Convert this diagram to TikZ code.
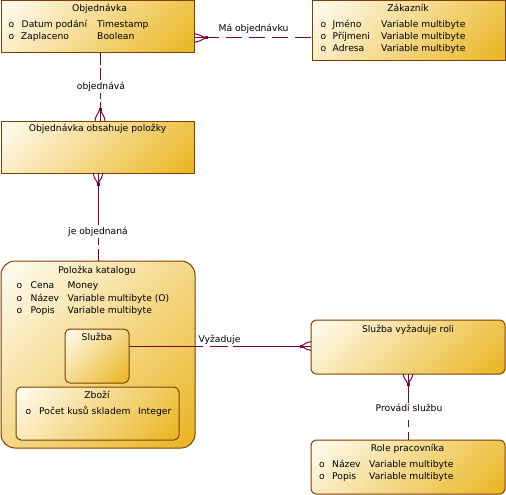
\documentclass[tikz,border=0pt]{standalone}
\usepackage{fontspec}
\setmainfont{DejaVu Sans}
\usetikzlibrary{shapes.misc,calc,shadings}
\definecolor{bordc}{RGB}{128,64,0}
\definecolor{relc}{RGB}{128,0,64}
\definecolor{cl}{RGB}{255,253,244}
\definecolor{cg}{RGB}{233,180,30}
\newcommand\dfs{\fontsize{9.2}{11}\selectfont}
\tikzset{
  ent/.style={draw=bordc, line width=1pt, inner sep=0pt, outer sep=0pt, anchor=north west},
  sh/.style 2 args={upper left=cl, lower right=cg, upper right=cg!#1!cl, lower left=cg!#2!cl},
  cham/.style={ent, chamfered rectangle, chamfered rectangle xsep=3pt, chamfered rectangle ysep=3pt},
  rnd/.style={ent, rectangle, rounded corners=5pt},
  txt/.style={inner sep=0pt, font=\dfs, anchor=base west},
  ttl/.style={inner sep=0pt, font=\dfs, anchor=base},
  rel/.style={draw=relc, line width=1pt},
  lab/.style={fill=white, inner sep=1pt, font=\dfs, anchor=base},
  labn/.style={inner sep=0pt, font=\dfs, anchor=base},
  dotm/.style={fill=relc, inner sep=0pt, minimum size=3pt, rectangle}
}
\begin{document}
\begin{tikzpicture}[x=1pt,y=-1pt]
\fill[white] (0,0) rectangle (506,495);
\useasboundingbox (0,0) rectangle (506,495);

% boxes
\node[cham, sh={79}{21}, minimum width=193pt, minimum height=52pt] (obj) at (1,1) {};
\node[cham, sh={76}{24}, minimum width=193pt, minimum height=60pt] (zak) at (312,1) {};
\node[cham, sh={79}{21}, minimum width=193pt, minimum height=52pt] (oop) at (1,121) {};
\node[rnd, sh={51}{49}, rounded corners=14pt, minimum width=194pt, minimum height=187pt] (pk) at (1,261) {};
\node[rnd, sh={54}{46}, minimum width=64pt, minimum height=54pt] (sl) at (65,329) {};
\node[rnd, sh={75}{25}, minimum width=163pt, minimum height=53pt] (zb) at (16,387) {};
\node[rnd, sh={78}{22}, minimum width=194pt, minimum height=54pt] (svr) at (311,320) {};
\node[rnd, sh={78}{22}, minimum width=194pt, minimum height=54pt] (role) at (311,440) {};

% Objednavka
\node[ttl] (objT) at (99.5,12) {Objednávka};
\node[txt] (objo1) at (8.5,27.5) {o};
\node[txt] (objn1) at (21.5,27.5) {Datum podání};
\node[txt] (objt1) at (97,27.5) {Timestamp};
\node[txt] (objo2) at (8.5,39.5) {o};
\node[txt] (objn2) at (20.7,39.5) {Zaplaceno};
\node[txt] (objt2) at (97,39.5) {Boolean};

% Zakaznik
\node[ttl] (zakT) at (408,12) {Zákazník};
\node[txt] (zako1) at (320.5,27.5) {o};
\node[txt] (zakn1) at (332.5,27.5) {Jméno};
\node[txt] (zakt1) at (381,27.5) {Variable multibyte};
\node[txt] (zako2) at (320.5,39.5) {o};
\node[txt] (zakn2) at (332.5,39.5) {Příjmeni};
\node[txt] (zakt2) at (381,39.5) {Variable multibyte};
\node[txt] (zako3) at (320.5,51.5) {o};
\node[txt] (zakn3) at (332.5,51.5) {Adresa};
\node[txt] (zakt3) at (381,51.5) {Variable multibyte};

% Objednavka obsahuje polozky
\node[ttl] (oopT) at (97.5,131.5) {Objednávka obsahuje položky};

% Polozka katalogu
\node[ttl] (pkT) at (97,273.5) {Položka katalogu};
\node[txt] (pko1) at (16.5,288.5) {o};
\node[txt] (pkn1) at (30.5,288.5) {Cena};
\node[txt] (pkt1) at (67.5,288.5) {Money};
\node[txt] (pko2) at (16.5,301) {o};
\node[txt] (pkn2) at (30.5,301) {Název};
\node[txt] (pkt2) at (67.5,301) {Variable multibyte (O)};
\node[txt] (pko3) at (16.5,313.5) {o};
\node[txt] (pkn3) at (30.5,313.5) {Popis};
\node[txt] (pkt3) at (67.5,313.5) {Variable multibyte};

\node[ttl] (slT) at (97,340.5) {Služba};
\node[ttl] (zbT) at (97,398.5) {Zboží};
\node[txt] (zbo1) at (25.5,414) {o};
\node[txt] (zbn1) at (39,414) {Počet kusů skladem};
\node[txt] (zbt1) at (138,414) {Integer};

% Sluzba vyzaduje roli
\node[ttl] (svrT) at (408,332) {Služba vyžaduje roli};

% Role pracovnika
\node[ttl] (roleT) at (407.5,451.5) {Role pracovníka};
\node[txt] (roleo1) at (319,467) {o};
\node[txt] (rolen1) at (332,467) {Název};
\node[txt] (rolet1) at (369,467) {Variable multibyte};
\node[txt] (roleo2) at (319,479.5) {o};
\node[txt] (rolen2) at (332,479.5) {Popis};
\node[txt] (rolet2) at (369,479.5) {Variable multibyte};

% ---- connector 1: Objednavka -- Zakaznik
\coordinate (d1) at (206,38);
\coordinate (e1a) at ($(obj.east |- d1)+(0,-4.5)$);
\coordinate (e1b) at (obj.east |- d1);
\coordinate (e1c) at ($(obj.east |- d1)+(0,4.5)$);
\draw[rel, dash pattern=on 16pt off 7pt, dash phase=3pt] (d1) -- (zak.west |- d1);
\draw[rel] (d1) .. controls ($(d1)!0.5!(e1a)$) and ($(e1a)+(4,0)$) .. (e1a);
\draw[rel] (d1) -- (e1b);
\draw[rel] (d1) .. controls ($(d1)!0.5!(e1c)$) and ($(e1c)+(4,0)$) .. (e1c);
\node[dotm] (p1) at (d1) {};
\node[labn] (l1) at (253.5,31.5) {Má objednávku};

% ---- connector 2: Objednavka -- Objednavka obsahuje polozky
\coordinate (d2) at (100,109);
\node[lab] (l2) at (101,89.5) {objednává};
\coordinate (e2a) at ($(oop.north -| d2)+(-5,0)$);
\coordinate (e2b) at (oop.north -| d2);
\coordinate (e2c) at ($(oop.north -| d2)+(5,0)$);
\draw[rel, dash pattern=on 12pt off 3pt] (obj.south -| d2) -- (d2 |- l2.north);
\draw[rel, dash pattern=on 7pt off 3pt] (d2) -- (d2 |- l2.south);
\draw[rel] (d2) .. controls ($(d2)!0.5!(e2a)$) and ($(e2a)+(0,-4)$) .. (e2a);
\draw[rel] (d2) -- (e2b);
\draw[rel] (d2) .. controls ($(d2)!0.5!(e2c)$) and ($(e2c)+(0,-4)$) .. (e2c);
\node[dotm] (p2) at (d2) {};

% ---- connector 3: Objednavka obsahuje polozky -- Polozka katalogu
\coordinate (d3) at (98,184);
\node[lab] (l3) at (98,234) {je objednaná};
\coordinate (e3a) at ($(oop.south -| d3)+(-5,0)$);
\coordinate (e3b) at (oop.south -| d3);
\coordinate (e3c) at ($(oop.south -| d3)+(5,0)$);
\draw[rel] (d3) -- (d3 |- l3.north);
\draw[rel, dash pattern=on 12pt off 4pt on 7pt off 30pt] (pk.north -| d3) -- (d3 |- l3.south);
\draw[rel] (d3) .. controls ($(d3)!0.5!(e3a)$) and ($(e3a)+(0,4)$) .. (e3a);
\draw[rel] (d3) -- (e3b);
\draw[rel] (d3) .. controls ($(d3)!0.5!(e3c)$) and ($(e3c)+(0,4)$) .. (e3c);
\node[dotm] (p3) at (d3) {};

% ---- connector 4: Sluzba -- Sluzba vyzaduje roli
\coordinate (d4) at (301,346);
\coordinate (e4a) at ($(svr.west |- d4)+(0,-4.5)$);
\coordinate (e4b) at (svr.west |- d4);
\coordinate (e4c) at ($(svr.west |- d4)+(0,4.5)$);
\draw[rel, dash pattern=on 74pt off 7pt on 18pt off 5pt on 80pt] (sl.east |- d4) -- (d4);
\draw[rel] (d4) .. controls ($(d4)!0.5!(e4a)$) and ($(e4a)+(-4,0)$) .. (e4a);
\draw[rel] (d4) -- (e4b);
\draw[rel] (d4) .. controls ($(d4)!0.5!(e4c)$) and ($(e4c)+(-4,0)$) .. (e4c);
\node[dotm] (p4) at (d4) {};
\node[labn] (l4) at (219.5,342) {Vyžaduje};

% ---- connector 5: Sluzba vyzaduje roli -- Role pracovnika
\coordinate (d5) at (408,384);
\node[lab] (l5) at (409,411.5) {Provádí službu};
\coordinate (e5a) at ($(svr.south -| d5)+(-5,0)$);
\coordinate (e5b) at (svr.south -| d5);
\coordinate (e5c) at ($(svr.south -| d5)+(5,0)$);
\draw[rel] (d5) -- (d5 |- l5.north);
\draw[rel, dash pattern=on 8pt off 5pt on 7pt off 30pt] (role.north -| d5) -- (d5 |- l5.south);
\draw[rel] (d5) .. controls ($(d5)!0.5!(e5a)$) and ($(e5a)+(0,4)$) .. (e5a);
\draw[rel] (d5) -- (e5b);
\draw[rel] (d5) .. controls ($(d5)!0.5!(e5c)$) and ($(e5c)+(0,4)$) .. (e5c);
\node[dotm] (p5) at (d5) {};
\end{tikzpicture}
\end{document}
